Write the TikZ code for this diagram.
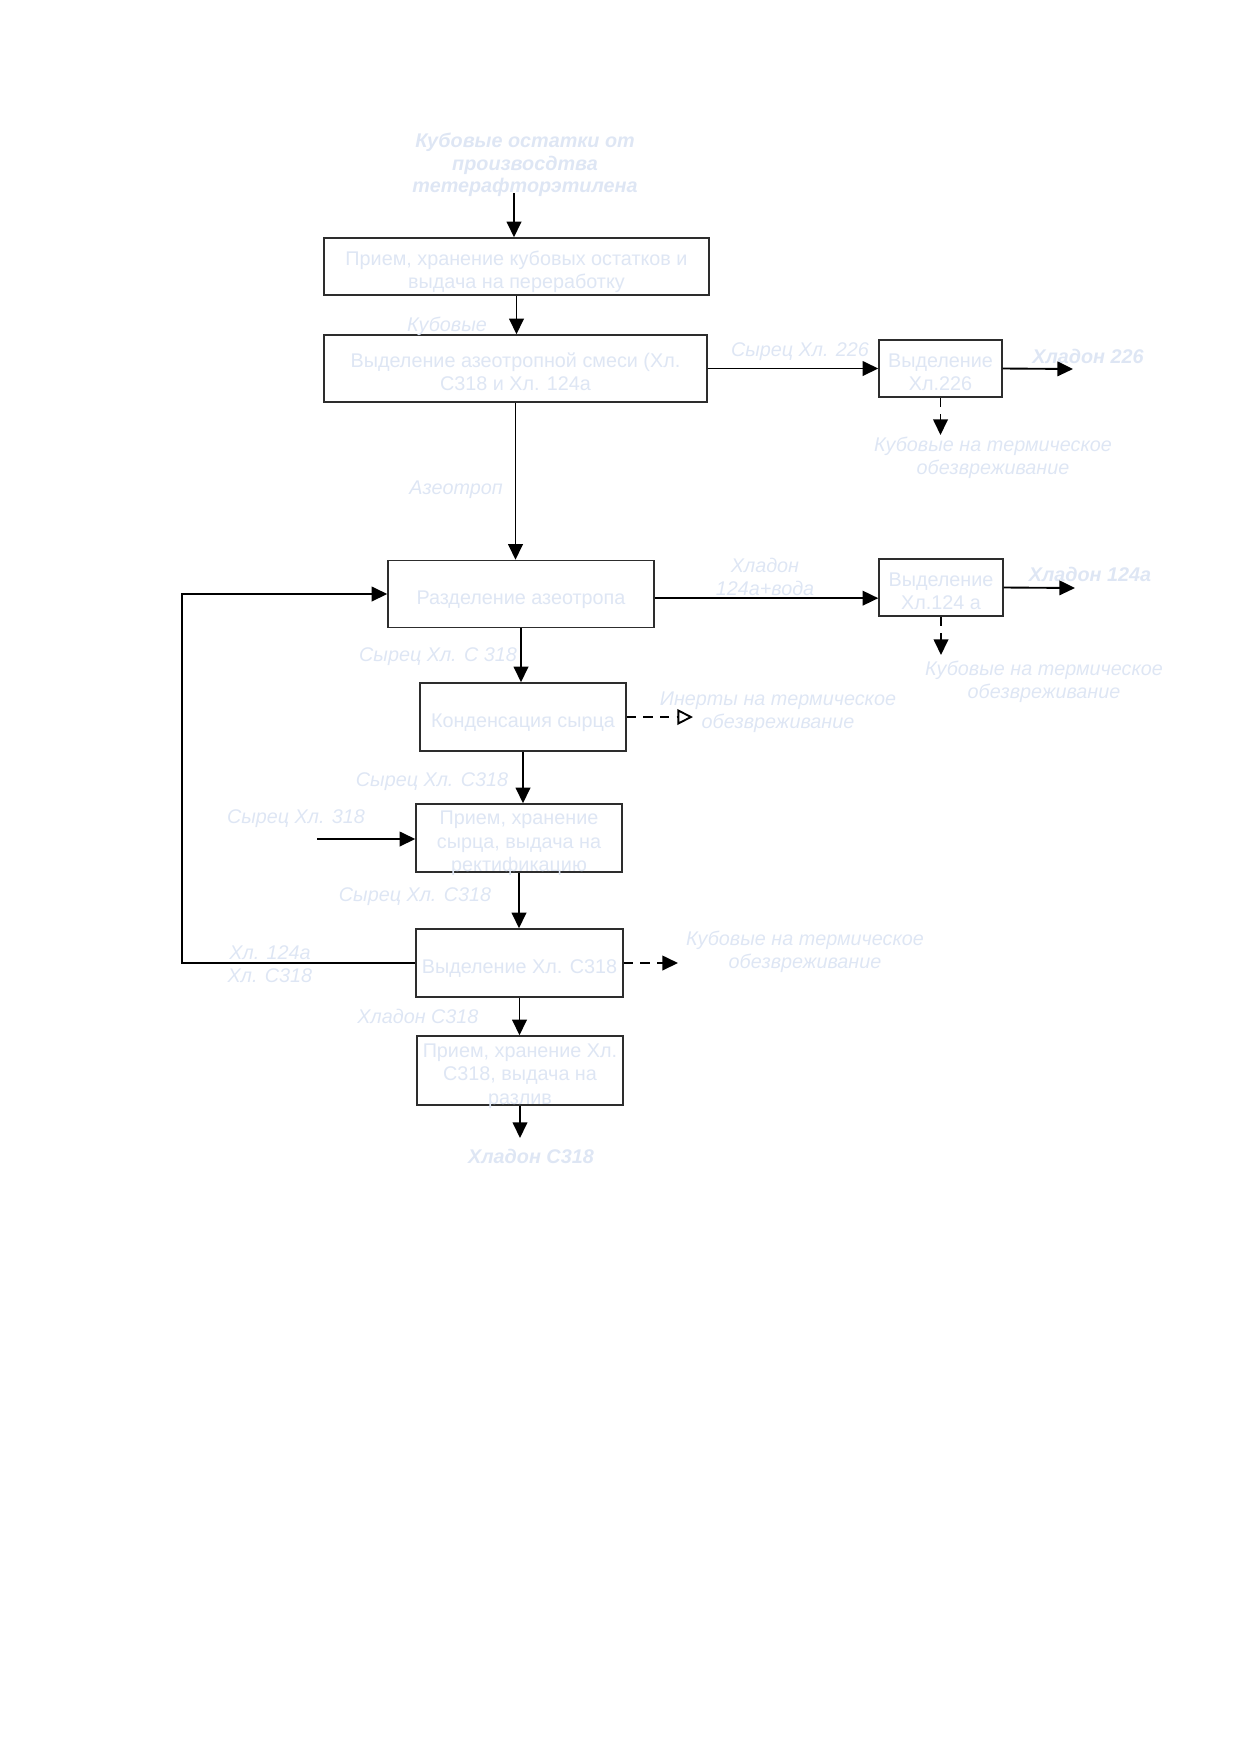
\documentclass[tikz,border=0pt]{standalone}
\usepackage{fontspec}
\setmainfont{Liberation Sans}
\usetikzlibrary{arrows.meta,calc}
\definecolor{txt}{RGB}{222,230,244}
\definecolor{brd}{RGB}{45,45,45}
\def\pu{0.48pt}
\newcommand\boxtext[1]{\raisebox{-5pt}[0pt][0pt]{\begin{tabular}{@{}c@{}}#1\end{tabular}}}
\begin{document}
\begin{tikzpicture}[x=0.48pt,y=-0.48pt,
  box/.style={draw=brd, line width=0.7pt, fill=white, inner sep=0pt, align=center, text=txt,
    font=\fontsize{9.5}{11.3}\selectfont},
  lab/.style={text=txt, align=center, inner sep=0pt, font=\fontsize{9.5}{10.8}\selectfont\itshape},
  blab/.style={text=txt, align=center, inner sep=0pt, font=\fontsize{9.5}{10.8}\selectfont\bfseries\itshape},
  conn/.style={line width=0.9pt, -{Triangle[length=7.5pt,width=7pt]}},
  dconn/.style={conn, dash pattern=on 4.5pt off 3.5pt},
  oconn/.style={line width=0.9pt, dash pattern=on 4.5pt off 3.5pt, -{Triangle[open,length=7.5pt,width=7.5pt]}}]

\useasboundingbox (0,0) rectangle (1240,1754);

% boxes
\node[box, minimum width={385*\pu}, minimum height={57*\pu}] (b1) at (516.5,266.5) {\boxtext{Прием, хранение кубовых остатков и\\выдача на переработку}};
\node[box, minimum width={383*\pu}, minimum height={67*\pu}] (b2) at (515.5,368.5) {\boxtext{Выделение азеотропной смеси (Хл.\\С318 и Хл. 124а}};
\node[box, minimum width={123*\pu}, minimum height={57*\pu}] (b226) at (940.5,368.5) {\boxtext{Выделение\\Хл.226}};
\node[box, minimum width={266*\pu}, minimum height={67*\pu}] (b3) at (521,594) {\boxtext{Разделение азеотропа}};
\node[box, minimum width={124*\pu}, minimum height={57*\pu}] (b124) at (941,587.5) {\boxtext{Выделение\\Хл.124 а}};
\node[box, minimum width={206*\pu}, minimum height={68*\pu}] (b4) at (523,717) {\boxtext{Конденсация сырца}};
\node[box, minimum width={206*\pu}, minimum height={68*\pu}] (b5) at (519,838) {\boxtext{Прием, хранение\\сырца, выдача на\\ректификацию}};
\node[box, minimum width={207*\pu}, minimum height={68*\pu}] (b6) at (519.5,963) {\boxtext{Выделение Хл. С318}};
\node[box, minimum width={206*\pu}, minimum height={69*\pu}] (b7) at (520,1070.5) {\boxtext{Прием, хранение Хл.\\С318, выдача на\\разлив}};

% labels
\node[blab] (title) at (525,165) {Кубовые остатки от\\произвосдтва\\тетерафторэтилена};
\node[lab] (lkub) at (447,326) {Кубовые};
\node[lab] (l226) at (800,352) {Сырец Хл. 226};
\node[blab] (h226) at (1088,356) {Хладон 226};
\node[lab] (k226) at (993,458) {Кубовые на термическое\\обезвреживание};
\node[lab] (laz) at (456,490) {Азеотроп};
\node[lab] (l124) at (765,577) {Хладон\\124а+вода};
\node[blab] (h124) at (1090,574) {Хладон 124а};
\node[lab] (k124) at (1044,682) {Кубовые на термическое\\обезвреживание};
\node[lab] (lc1) at (438,657) {Сырец Хл. С 318};
\node[lab] (lin) at (778,712) {Инерты на термическое\\обезвреживание};
\node[lab] (lc2) at (432,782) {Сырец Хл. С318};
\node[lab] (lc3) at (296,819) {Сырец Хл. 318};
\node[lab] (lc4) at (415,897) {Сырец Хл. С318};
\node[lab] (lrec) at (270,964) {Хл. 124а\\Хл. С318};
\node[lab] (k6) at (805,952) {Кубовые на термическое\\обезвреживание};
\node[lab] (lh7) at (418,1016) {Хладон С318};
\node[blab] (hout) at (531,1156) {Хладон С318};

% coordinates for free ends
\coordinate (t0) at (514,193);
\coordinate (o226) at (1073,369);
\coordinate (d226) at (942,435);
\coordinate (o124) at (1075,588);
\coordinate (d124) at (943,655);
\coordinate (lp) at (182,963);
\coordinate (oin) at (693,717);
\coordinate (i318) at (317,839);
\coordinate (ob6) at (678,963);
\coordinate (o7) at (520,1138);

% connectors
\draw[conn] (t0) -- (t0 |- b1.north);
\draw[conn] (b1.south) -- (b1.south |- b2.north);
\draw[conn] (b2.east) -- (b2.east -| b226.west);
\draw[conn] (b226.east) -- (o226);
\draw[dconn] (b226.south) -- (b226.south |- d226);
\draw[conn] (b2.south) -- (b2.south |- b3.north);
\draw[conn] ([yshift=-2pt]b3.east) -- ([yshift=-2pt]b3.east -| b124.west);
\draw[conn] (b124.east) -- (o124);
\draw[dconn] (b124.south) -- (b124.south |- d124);
\draw[conn] (b3.south) -- (b3.south |- b4.north);
\draw[oconn] (b4.east) -- (oin);
\draw[conn] (b4.south) -- (b4.south |- b5.north);
\draw[conn] (i318) -- (i318 -| b5.west);
\draw[conn] (b5.south) -- (b5.south |- b6.north);
\draw[conn] (b6.west) -- (lp) |- (b3.west);
\draw[dconn] (b6.east) -- (ob6);
\draw[conn] (b6.south) -- (b6.south |- b7.north);
\draw[conn] (b7.south) -- (o7);
\end{tikzpicture}
\end{document}
